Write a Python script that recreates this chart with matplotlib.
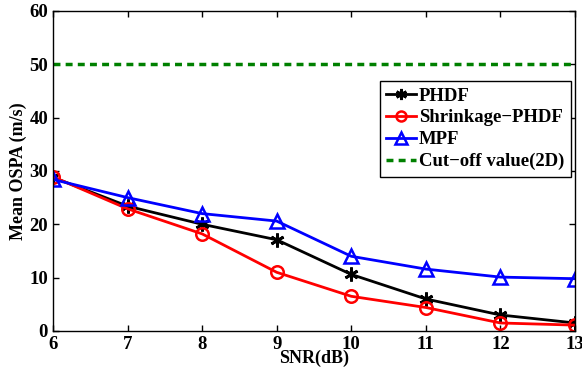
import numpy as np
import matplotlib.pyplot as plt

plt.rcParams['font.family'] = ['Liberation Serif', 'DejaVu Serif']
plt.rcParams['font.weight'] = 'bold'

snr = [6, 7, 8, 9, 10, 11, 12, 13]
phdf = [28.8, 23.4, 20.0, 17.1, 10.6, 6.0, 3.0, 1.5]
shrink = [28.9, 22.9, 18.2, 11.0, 6.5, 4.4, 1.5, 1.1]
mpf = [28.4, 25.0, 22.0, 20.6, 14.0, 11.6, 10.1, 9.8]
cutoff = 50

fig = plt.figure(figsize=(5.82, 3.74), dpi=100)
ax = fig.add_axes([0.091, 0.115, 0.897, 0.856])

ax.plot(snr, phdf, 'k-', marker=(6, 2, 0), lw=2, ms=10, mew=2, label='PHDF')
ax.plot(snr, shrink, 'r-o', lw=2, ms=9, mfc='none', mew=1.8, label='Shrinkage\u2212PHDF')
ax.plot(snr, mpf, 'b-^', lw=2, ms=10, mfc='none', mew=1.8, label='MPF')
ax.plot([snr[0], snr[-1]], [cutoff, cutoff], color='green', ls=(0, (2, 1.5)), lw=2.5,
        label='Cut\u2212off value(2D)')

ax.set_xlim(6, 13)
ax.set_ylim(0, 60)
ax.set_xticks(snr)
ax.set_yticks(range(0, 61, 10))
ax.tick_params(direction='in', top=True, right=True, labelsize=13.5, width=1, length=4)
for lab in ax.get_xticklabels() + ax.get_yticklabels():
    lab.set_fontweight('bold')
for s in ax.spines.values():
    s.set_linewidth(1)
ax.set_xlabel('SNR(dB)', fontsize=13, fontweight='bold', labelpad=-2)
ax.set_ylabel('Mean OSPA (m/s)', fontsize=13, fontweight='bold', labelpad=2)

leg = ax.legend(loc='upper right', bbox_to_anchor=(571 / 582, 1 - 81 / 374),
                bbox_transform=fig.transFigure, fontsize=13.5, handlelength=1.6,
                handletextpad=0.15, labelspacing=0.25, borderpad=0.35,
                borderaxespad=0, fancybox=False, edgecolor='black', framealpha=1,
                markerscale=0.8)
leg.get_frame().set_linewidth(1)
for t in leg.get_texts():
    t.set_fontweight('bold')

fig.savefig('out.png', dpi=100)
